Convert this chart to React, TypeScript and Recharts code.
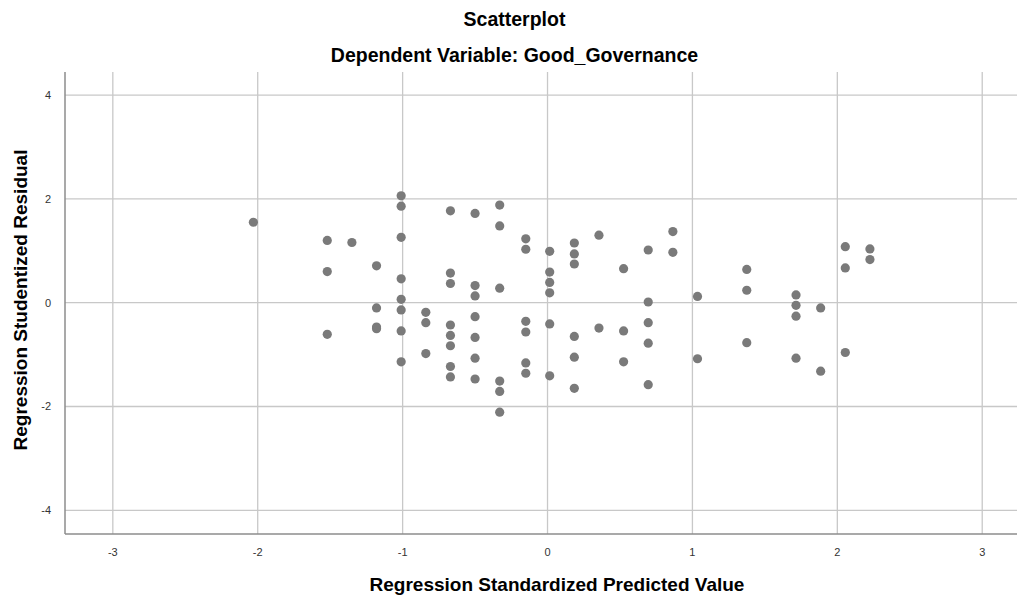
import React from "react";
import { ScatterChart, Scatter, XAxis, YAxis, CartesianGrid, Label } from "recharts";

const predicted = [
  -2.03, -1.52, -1.52, -1.52, -1.35, -1.18, -1.18, -1.18, -1.18,
  -1.01, -1.01, -1.01, -1.01, -1.01, -1.01, -1.01, -1.01,
  -0.84, -0.84, -0.84,
  -0.67, -0.67, -0.67, -0.67, -0.67, -0.67, -0.67, -0.67,
  -0.5, -0.5, -0.5, -0.5, -0.5, -0.5, -0.5,
  -0.33, -0.33, -0.33, -0.33, -0.33, -0.33,
  -0.15, -0.15, -0.15, -0.15, -0.15, -0.15,
  0.015, 0.015, 0.015, 0.015, 0.015, 0.015,
  0.185, 0.185, 0.185, 0.185, 0.185, 0.185,
  0.355, 0.355, 0.525, 0.525, 0.525,
  0.695, 0.695, 0.695, 0.695, 0.695, 0.865, 0.865,
  1.035, 1.035, 1.375, 1.375, 1.375,
  1.715, 1.715, 1.715, 1.715, 1.885, 1.885,
  2.055, 2.055, 2.055, 2.225, 2.225,
];

const residual = [
  1.55, 1.2, 0.6, -0.61, 1.16, 0.71, -0.1, -0.47, -0.5,
  2.06, 1.86, 1.26, 0.46, 0.065, -0.14, -0.545, -1.14,
  -0.185, -0.385, -0.98,
  1.77, 0.57, 0.37, -0.43, -0.63, -0.83, -1.23, -1.43,
  1.72, 0.33, 0.13, -0.27, -0.67, -1.07, -1.47,
  1.88, 1.48, 0.28, -1.51, -1.71, -2.11,
  1.23, 1.03, -0.36, -0.565, -1.16, -1.36,
  0.99, 0.59, 0.39, 0.19, -0.41, -1.41,
  1.15, 0.94, 0.745, -0.65, -1.05, -1.65,
  1.3, -0.49, 0.655, -0.545, -1.14,
  1.015, 0.013, -0.385, -0.78, -1.58, 1.37, 0.97,
  0.12, -1.08, 0.64, 0.24, -0.77,
  0.15, -0.05, -0.26, -1.07, -0.1, -1.32,
  1.08, 0.67, -0.96, 1.035, 0.83,
];

const xTicks = [-3, -2, -1, 0, 1, 2, 3];
const yTicks = [-4, -2, 0, 2, 4];

const data = predicted.map((x, i) => ({ x, y: residual[i] }));

const font = "'Liberation Sans', Arial, sans-serif";

const Dot = (props: any) => <circle cx={props.cx} cy={props.cy} r={4.6} fill="#7a7a7a" />;

const titleStyle: React.CSSProperties = {
  position: "absolute",
  left: 0,
  width: 1017,
  textAlign: "center",
  paddingLeft: 12,
  boxSizing: "border-box",
  fontSize: 19.5,
  fontWeight: "bold",
  lineHeight: "22px",
  color: "#000",
};

export default function App() {
  return (
    <div style={{ position: "absolute", left: 0, top: 0, width: 1017, height: 599, background: "#fff", fontFamily: font }}>
      <div style={{ ...titleStyle, top: 8 }}>Scatterplot</div>
      <div style={{ ...titleStyle, top: 44 }}>Dependent Variable: Good_Governance</div>
      <ScatterChart width={1017} height={599} margin={{ top: 72, right: 0, bottom: 0, left: 0 }}>
        <CartesianGrid stroke="#c8c8c8" strokeWidth={1.3} syncWithTicks />
        <XAxis
          type="number"
          dataKey="x"
          domain={[-3.33, 3.24]}
          ticks={xTicks}
          allowDataOverflow
          height={65}
          tickLine={false}
          tickMargin={8}
          stroke="#8c8c8c"
          strokeWidth={1.5}
          tick={{ fill: "#333", fontSize: 11, fontFamily: font }}
        >
          <Label
            content={(p: any) => (
              <text x={557} y={p.viewBox.y + 57} textAnchor="middle" fontSize={19} fontWeight="bold" fill="#000" fontFamily={font}>
                Regression Standardized Predicted Value
              </text>
            )}
          />
        </XAxis>
        <YAxis
          type="number"
          dataKey="y"
          domain={[-4.457, 4.445]}
          ticks={yTicks}
          allowDataOverflow
          width={65}
          tickLine={false}
          tickMargin={8}
          stroke="#8c8c8c"
          strokeWidth={1.5}
          tick={{ fill: "#333", fontSize: 11, fontFamily: font }}
        >
          <Label
            content={() => (
              <text
                x={27}
                y={300}
                transform="rotate(-90 27 300)"
                textAnchor="middle"
                fontSize={19}
                fontWeight="bold"
                fill="#000"
                fontFamily={font}
              >
                Regression Studentized Residual
              </text>
            )}
          />
        </YAxis>
        <Scatter data={data} shape={Dot} isAnimationActive={false} />
      </ScatterChart>
    </div>
  );
}
